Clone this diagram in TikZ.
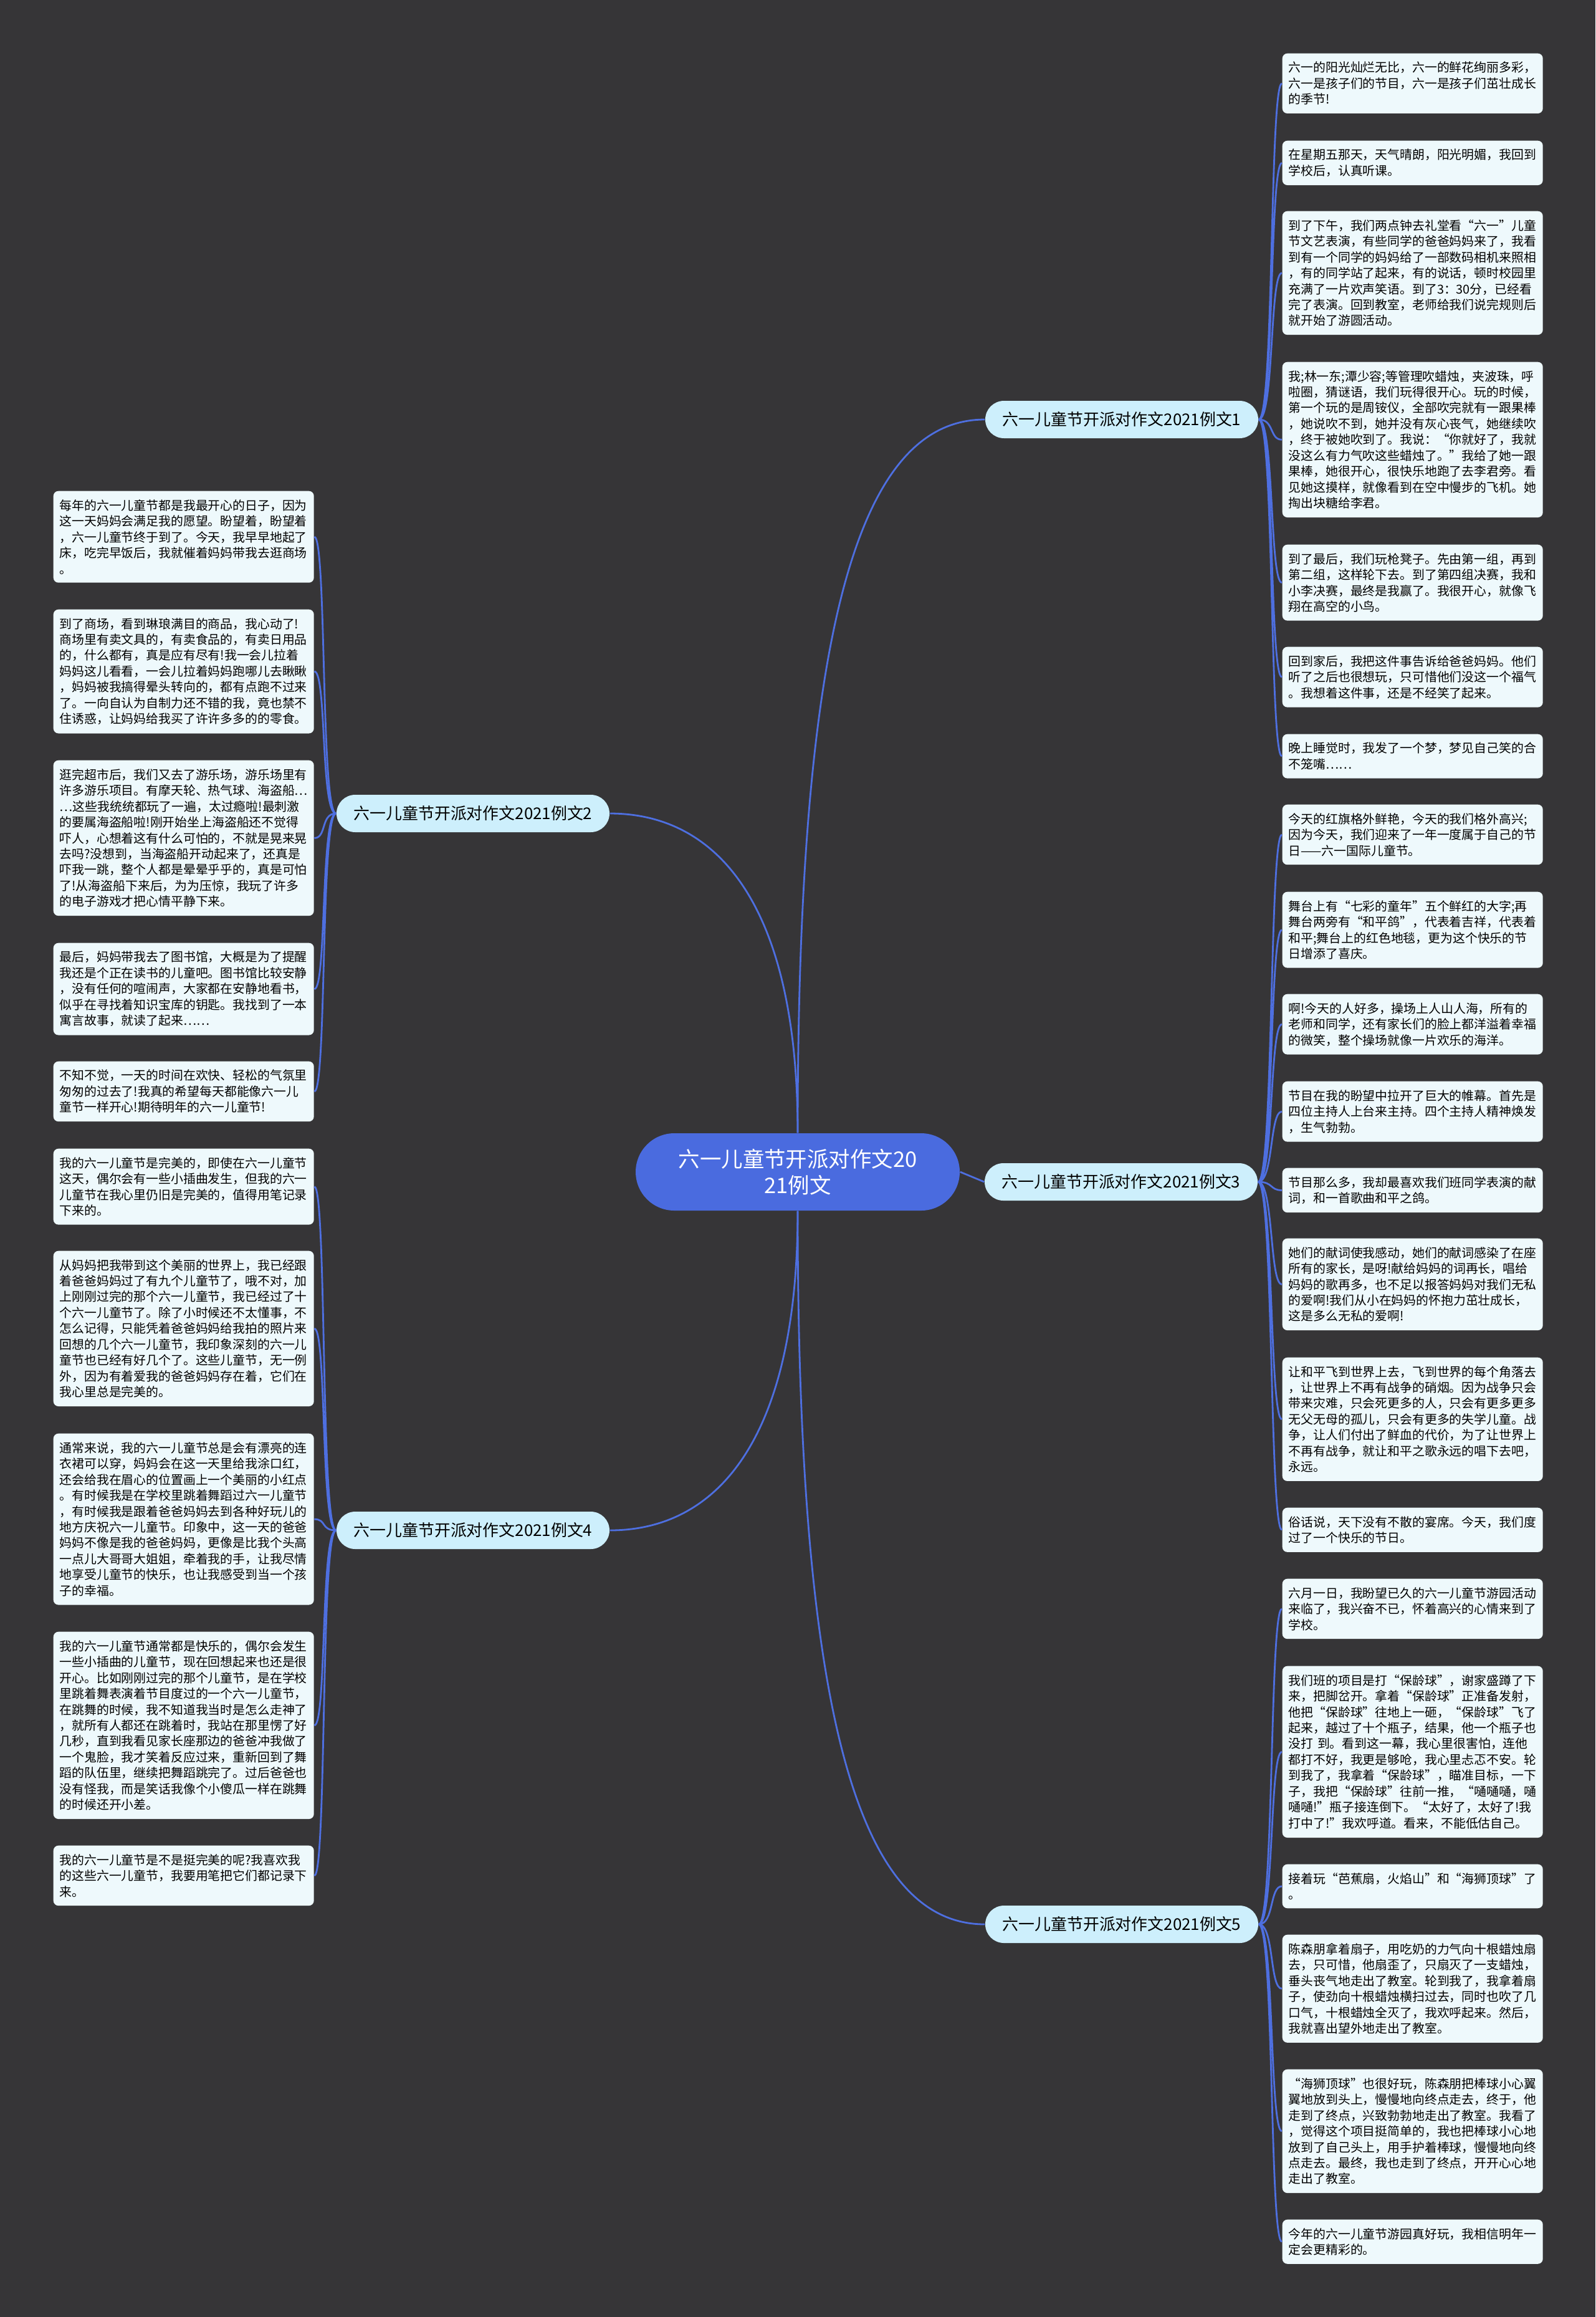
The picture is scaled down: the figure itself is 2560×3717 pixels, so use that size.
\documentclass[tikz,border=0pt]{standalone}
\usepackage{fontspec}
\setmainfont{Noto Sans CJK SC}
\usepackage{xcolor}
\usepackage{tikz}
\definecolor{mmBack}{HTML}{363537}
\definecolor{mmHub}{HTML}{4A6BDF}
\definecolor{mmBranch}{HTML}{CDEFFC}
\definecolor{mmLeaf}{HTML}{EEF9FC}
\definecolor{mmLine}{HTML}{4E6FE0}

\begin{document}
\begin{tikzpicture}[
    x=0.1mm,y=-0.1mm,
    hub/.style={fill=mmHub,rounded corners=6.2mm,minimum width=52mm,minimum height=12.4mm,
                inner sep=0pt,align=center,text=white,font=\fontsize{9.8}{12}\selectfont},
    branch/.style={fill=mmBranch,rounded corners=3mm,minimum width=43.8mm,minimum height=6mm,
                   inner sep=0pt,text=black,font=\fontsize{7.37}{9}\selectfont},
    leaf/.style={fill=mmLeaf,rounded corners=0.8mm,text width=39.8mm,inner xsep=1mm,inner ysep=1.35mm,
                 anchor=north west,align=left,text=black,font=\fontsize{5.65}{7.25}\selectfont},
    lk/.style={draw=mmLine,line width=0.28mm},
    rlink/.style={to path={.. controls +(25,0) and +(-20,0) .. (\tikztotarget)}},
    llink/.style={to path={.. controls +(-25,0) and +(20,0) .. (\tikztotarget)}}
  ]
    \useasboundingbox (0,0) rectangle (2560,3717);
    \fill[mmBack] (0,0) rectangle (2560,3717);

    \node[hub] (hub) at (1280,1880) {六一儿童节开派对作文20\\21例文};

    \node[branch] (b1) at (1800,673)  {六一儿童节开派对作文2021例文1};
    \node[branch] (b2) at (759,1305)  {六一儿童节开派对作文2021例文2};
    \node[branch] (b3) at (1799,1896) {六一儿童节开派对作文2021例文3};
    \node[branch] (b4) at (759,2455)  {六一儿童节开派对作文2021例文4};
    \node[branch] (b5) at (1800,3087) {六一儿童节开派对作文2021例文5};

    % 例文1
    \node[leaf] (r1) at (2057,85) {六一的阳光灿烂无比，六一的鲜花绚丽多彩，\\六一是孩子们的节目，六一是孩子们茁壮成长\\的季节!};
    \node[leaf] (r2) at (2057,225) {在星期五那天，天气晴朗，阳光明媚，我回到\\学校后，认真听课。};
    \node[leaf] (r3) at (2057,338) {到了下午，我们两点钟去礼堂看“六一”儿童\\节文艺表演，有些同学的爸爸妈妈来了，我看\\到有一个同学的妈妈给了一部数码相机来照相\\，有的同学站了起来，有的说话，顿时校园里\\充满了一片欢声笑语。到了3：30分，已经看\\完了表演。回到教室，老师给我们说完规则后\\就开始了游圆活动。};
    \node[leaf] (r4) at (2057,580) {我;林一东;潭少容;等管理吹蜡烛，夹波珠，呼\\啦圈，猜谜语，我们玩得很开心。玩的时候，\\第一个玩的是周铵仪，全部吹完就有一跟果棒\\，她说吹不到，她并没有灰心丧气，她继续吹\\，终于被她吹到了。我说：“你就好了，我就\\没这么有力气吹这些蜡烛了。”我给了她一跟\\果棒，她很开心，很快乐地跑了去李君旁。看\\见她这摸样，就像看到在空中慢步的飞机。她\\掏出块糖给李君。};
    \node[leaf] (r5) at (2057,873) {到了最后，我们玩枪凳子。先由第一组，再到\\第二组，这样轮下去。到了第四组决赛，我和\\小李决赛，最终是我赢了。我很开心，就像飞\\翔在高空的小鸟。};
    \node[leaf] (r6) at (2057,1037) {回到家后，我把这件事告诉给爸爸妈妈。他们\\听了之后也很想玩，只可惜他们没这一个福气\\。我想着这件事，还是不经笑了起来。};
    \node[leaf] (r7) at (2057,1177) {晚上睡觉时，我发了一个梦，梦见自己笑的合\\不笼嘴……};

    % 例文3
    \node[leaf] (r8) at (2057,1290) {今天的红旗格外鲜艳，今天的我们格外高兴;\\因为今天，我们迎来了一年一度属于自己的节\\日——六一国际儿童节。};
    \node[leaf] (r9) at (2057,1430) {舞台上有“七彩的童年”五个鲜红的大字;再\\舞台两旁有“和平鸽”，代表着吉祥，代表着\\和平;舞台上的红色地毯，更为这个快乐的节\\日增添了喜庆。};
    \node[leaf] (r10) at (2057,1594) {啊!今天的人好多，操场上人山人海，所有的\\老师和同学，还有家长们的脸上都洋溢着幸福\\的微笑，整个操场就像一片欢乐的海洋。};
    \node[leaf] (r11) at (2057,1734) {节目在我的盼望中拉开了巨大的帷幕。首先是\\四位主持人上台来主持。四个主持人精神焕发\\，生气勃勃。};
    \node[leaf] (r12) at (2057,1873) {节目那么多，我却最喜欢我们班同学表演的献\\词，和一首歌曲和平之鸽。};
    \node[leaf] (r13) at (2057,1986) {她们的献词使我感动，她们的献词感染了在座\\所有的家长，是呀!献给妈妈的词再长，唱给\\妈妈的歌再多，也不足以报答妈妈对我们无私\\的爱啊!我们从小在妈妈的怀抱力茁壮成长，\\这是多么无私的爱啊!};
    \node[leaf] (r14) at (2057,2177) {让和平飞到世界上去，飞到世界的每个角落去\\，让世界上不再有战争的硝烟。因为战争只会\\带来灾难，只会死更多的人，只会有更多更多\\无父无母的孤儿，只会有更多的失学儿童。战\\争，让人们付出了鲜血的代价，为了让世界上\\不再有战争，就让和平之歌永远的唱下去吧，\\永远。};
    \node[leaf] (r15) at (2057,2418) {俗话说，天下没有不散的宴席。今天，我们度\\过了一个快乐的节日。};

    % 例文5
    \node[leaf] (r16) at (2057,2532) {六月一日，我盼望已久的六一儿童节游园活动\\来临了，我兴奋不已，怀着高兴的心情来到了\\学校。};
    \node[leaf] (r17) at (2057,2672) {我们班的项目是打“保龄球”，谢家盛蹲了下\\来，把脚岔开。拿着“保龄球”正准备发射，\\他把“保龄球”往地上一砸，“保龄球”飞了\\起来，越过了十个瓶子，结果，他一个瓶子也\\没打 到。看到这一幕，我心里很害怕，连他\\都打不好，我更是够呛，我心里忐忑不安。轮\\到我了，我拿着“保龄球”，瞄准目标，一下\\子，我把“保龄球”往前一推，“嗵嗵嗵，嗵\\嗵嗵!”瓶子接连倒下。“太好了，太好了!我\\打中了!”我欢呼道。看来，不能低估自己。};
    \node[leaf] (r18) at (2057,2990) {接着玩“芭蕉扇，火焰山”和“海狮顶球”了\\。};
    \node[leaf] (r19) at (2057,3103) {陈森朋拿着扇子，用吃奶的力气向十根蜡烛扇\\去，只可惜，他扇歪了，只扇灭了一支蜡烛，\\垂头丧气地走出了教室。轮到我了，我拿着扇\\子，使劲向十根蜡烛横扫过去，同时也吹了几\\口气，十根蜡烛全灭了，我欢呼起来。然后，\\我就喜出望外地走出了教室。};
    \node[leaf] (r20) at (2057,3319) {“海狮顶球”也很好玩，陈森朋把棒球小心翼\\翼地放到头上，慢慢地向终点走去，终于，他\\走到了终点，兴致勃勃地走出了教室。我看了\\，觉得这个项目挺简单的，我也把棒球小心地\\放到了自己头上，用手护着棒球，慢慢地向终\\点走去。最终，我也走到了终点，开开心心地\\走出了教室。};
    \node[leaf] (r21) at (2057,3560) {今年的六一儿童节游园真好玩，我相信明年一\\定会更精彩的。};

    % 例文2
    \node[leaf] (l1) at (85,787) {每年的六一儿童节都是我最开心的日子，因为\\这一天妈妈会满足我的愿望。盼望着，盼望着\\，六一儿童节终于到了。今天，我早早地起了\\床，吃完早饭后，我就催着妈妈带我去逛商场\\。};
    \node[leaf] (l2) at (85,977) {到了商场，看到琳琅满目的商品，我心动了!\\商场里有卖文具的，有卖食品的，有卖日用品\\的，什么都有，真是应有尽有!我一会儿拉着\\妈妈这儿看看，一会儿拉着妈妈跑哪儿去瞅瞅\\，妈妈被我搞得晕头转向的，都有点跑不过来\\了。一向自认为自制力还不错的我，竟也禁不\\住诱惑，让妈妈给我买了许许多多的的零食。};
    \node[leaf] (l3) at (85,1219) {逛完超市后，我们又去了游乐场，游乐场里有\\许多游乐项目。有摩天轮、热气球、海盗船…\\…这些我统统都玩了一遍，太过瘾啦!最刺激\\的要属海盗船啦!刚开始坐上海盗船还不觉得\\吓人，心想着这有什么可怕的，不就是晃来晃\\去吗?没想到，当海盗船开动起来了，还真是\\吓我一跳，整个人都是晕晕乎乎的，真是可怕\\了!从海盗船下来后，为为压惊，我玩了许多\\的电子游戏才把心情平静下来。};
    \node[leaf] (l4) at (85,1512) {最后，妈妈带我去了图书馆，大概是为了提醒\\我还是个正在读书的儿童吧。图书馆比较安静\\，没有任何的喧闹声，大家都在安静地看书，\\似乎在寻找着知识宝库的钥匙。我找到了一本\\寓言故事，就读了起来……};
    \node[leaf] (l5) at (85,1702) {不知不觉，一天的时间在欢快、轻松的气氛里\\匆匆的过去了!我真的希望每天都能像六一儿\\童节一样开心!期待明年的六一儿童节!};

    % 例文4
    \node[leaf] (l6) at (85,1842) {我的六一儿童节是完美的，即使在六一儿童节\\这天，偶尔会有一些小插曲发生，但我的六一\\儿童节在我心里仍旧是完美的，值得用笔记录\\下来的。};
    \node[leaf] (l7) at (85,2006) {从妈妈把我带到这个美丽的世界上，我已经跟\\着爸爸妈妈过了有九个儿童节了，哦不对，加\\上刚刚过完的那个六一儿童节，我已经过了十\\个六一儿童节了。除了小时候还不太懂事，不\\怎么记得，只能凭着爸爸妈妈给我拍的照片来\\回想的几个六一儿童节，我印象深刻的六一儿\\童节也已经有好几个了。这些儿童节，无一例\\外，因为有着爱我的爸爸妈妈存在着，它们在\\我心里总是完美的。};
    \node[leaf] (l8) at (85,2299) {通常来说，我的六一儿童节总是会有漂亮的连\\衣裙可以穿，妈妈会在这一天里给我涂口红，\\还会给我在眉心的位置画上一个美丽的小红点\\。有时候我是在学校里跳着舞蹈过六一儿童节\\，有时候我是跟着爸爸妈妈去到各种好玩儿的\\地方庆祝六一儿童节。印象中，这一天的爸爸\\妈妈不像是我的爸爸妈妈，更像是比我个头高\\一点儿大哥哥大姐姐，牵着我的手，让我尽情\\地享受儿童节的快乐，也让我感受到当一个孩\\子的幸福。};
    \node[leaf] (l9) at (85,2617) {我的六一儿童节通常都是快乐的，偶尔会发生\\一些小插曲的儿童节，现在回想起来也还是很\\开心。比如刚刚过完的那个儿童节，是在学校\\里跳着舞表演着节目度过的一个六一儿童节，\\在跳舞的时候，我不知道我当时是怎么走神了\\，就所有人都还在跳着时，我站在那里愣了好\\几秒，直到我看见家长座那边的爸爸冲我做了\\一个鬼脸，我才笑着反应过来，重新回到了舞\\蹈的队伍里，继续把舞蹈跳完了。过后爸爸也\\没有怪我，而是笑话我像个小傻瓜一样在跳舞\\的时候还开小差。};
    \node[leaf] (l10) at (85,2960) {我的六一儿童节是不是挺完美的呢?我喜欢我\\的这些六一儿童节，我要用笔把它们都记录下\\来。};

    % hub to branches
    \draw[lk] (hub.north) .. controls +(0,-820) and +(-200,0) .. (b1.west);
    \draw[lk] (hub.north) .. controls +(0,-368) and +(171,0) .. (b2.east);
    \draw[lk] (hub.east) -- (b3.west);
    \draw[lk] (hub.south) .. controls +(0,368) and +(171,0) .. (b4.east);
    \draw[lk] (hub.south) .. controls +(0,820) and +(-200,0) .. (b5.west);

    % branches to leaves
    \draw[lk,rlink] (b1.east) to (r1.west) (b1.east) to (r2.west) (b1.east) to (r3.west)
                    (b1.east) to (r4.west) (b1.east) to (r5.west) (b1.east) to (r6.west)
                    (b1.east) to (r7.west);
    \draw[lk,rlink] (b3.east) to (r8.west) (b3.east) to (r9.west) (b3.east) to (r10.west)
                    (b3.east) to (r11.west) (b3.east) to (r12.west) (b3.east) to (r13.west)
                    (b3.east) to (r14.west) (b3.east) to (r15.west);
    \draw[lk,rlink] (b5.east) to (r16.west) (b5.east) to (r17.west) (b5.east) to (r18.west)
                    (b5.east) to (r19.west) (b5.east) to (r20.west) (b5.east) to (r21.west);
    \draw[lk,llink] (b2.west) to (l1.east) (b2.west) to (l2.east) (b2.west) to (l3.east)
                    (b2.west) to (l4.east) (b2.west) to (l5.east);
    \draw[lk,llink] (b4.west) to (l6.east) (b4.west) to (l7.east) (b4.west) to (l8.east)
                    (b4.west) to (l9.east) (b4.west) to (l10.east);
  \end{tikzpicture}
\end{document}
